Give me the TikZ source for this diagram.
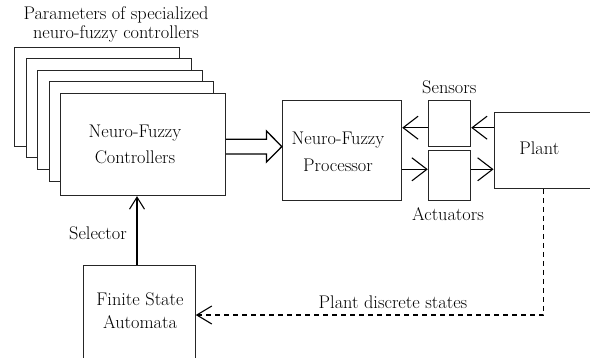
\documentclass[tikz,border=0pt]{standalone}
\usetikzlibrary{arrows.meta,calc}
\begin{document}
\begin{tikzpicture}[x=1pt,y=-1pt,
  box/.style={draw=black!85, line width=0.9pt, fill=white, inner sep=0pt},
  txt/.style={font=\fontsize{18.3}{26}\selectfont, align=center, inner sep=0pt},
  bigarr/.style={line width=1.4pt, -{Straight Barb[length=15pt,width=23pt,line width=1.1pt]}},
  selarr/.style={line width=1.4pt, -{Straight Barb[length=12pt,width=15pt,line width=1.1pt]}},
  dasharr/.style={line width=1.2pt, dash pattern=on 5pt off 4pt, -{Straight Barb[length=15pt,width=18pt,line width=1.1pt,sep=0pt]}},
  hollow/.style={draw=black, line width=1.3pt, line join=miter, fill=white}
]
\useasboundingbox (0,0) rectangle (590,357);
\clip (0,0) rectangle (590,357);

% stacked parameter boxes (back to front)
\node[box, minimum width=164.6pt, minimum height=98.3pt]  (p1) at (97.0,96.9) {};
\node[box, minimum width=165pt,   minimum height=99.4pt]  (p2) at (108.5,108.0) {};
\node[box, minimum width=164.3pt, minimum height=99pt]    (p3) at (119.9,119.5) {};
\node[box, minimum width=164.4pt, minimum height=100pt]   (p4) at (131.5,131.7) {};
\node[box, minimum width=165pt,   minimum height=102.4pt] (ctrl) at (143.2,144.5) {};
\node[txt] (ctrltxt) at (135,144) {Neuro-Fuzzy\\Controllers};

\node[txt, font=\fontsize{18.3}{19}\selectfont] (params) at (116,24) {Parameters of specialized\\neuro-fuzzy controllers};

% processor
\node[box, minimum width=119.5pt, minimum height=99.3pt] (proc) at (342,150.4) {};
\node[txt, font=\fontsize{18.3}{27}\selectfont] (proctxt) at (338,151.5) {Neuro-Fuzzy\\Processor};

% sensors / actuators
\node[box, minimum width=42.5pt, minimum height=46pt] (sens) at (449.5,123.7) {};
\node[box, minimum width=42.5pt, minimum height=50pt] (act)  at (449.5,175) {};
\node[txt] (senslbl) at (449.3,87) {Sensors};
\node[txt] (actlbl)  at (448,214) {Actuators};

% plant
\node[box, minimum width=140pt, minimum height=76pt] (plant) at (564,150.3) {};
\node[txt] (planttxt) at (539.3,148) {Plant};

% finite state automata
\node[box, minimum width=112pt, minimum height=120pt] (fsa) at (139.3,325.3) {};
\node[txt, font=\fontsize{18.3}{23}\selectfont] (fsatxt) at (140,310.5) {Finite State\\Automata};

% labels
\node[txt] (sellbl) at (98,233) {Selector};
\node[txt] (pdslbl) at (393,302) {Plant discrete states};

% helper coordinates
\coordinate (dy) at (0,146.6);
\coordinate (sy) at (0,127.7);
\coordinate (ay) at (0,169.3);
\coordinate (sx) at (137,0);
\coordinate (dc) at (543.3,315);

% hollow double arrow from controllers to processor
\draw[hollow] ($(ctrl.east |- dy)+(0,-7.3)$) -- ($(proc.west |- dy)+(-15.3,-7.3)$)
  -- ($(proc.west |- dy)+(-15.3,-15.6)$) -- (proc.west |- dy)
  -- ($(proc.west |- dy)+(-15.3,15.4)$) -- ($(proc.west |- dy)+(-15.3,7.4)$)
  -- ($(ctrl.east |- dy)+(0,7.4)$);

% sensor arrows
\draw[bigarr] (plant.west |- sy) -- (sens.east |- sy);
\draw[bigarr] (sens.west |- sy) -- (proc.east |- sy);
% actuator arrows
\draw[bigarr] (proc.east |- ay) -- (act.west |- ay);
\draw[bigarr] (act.east |- ay) -- (plant.west |- ay);

% selector
\draw[selarr] (fsa.north -| sx) -- (ctrl.south -| sx);

% plant discrete states
\draw[dasharr] (plant.south -| dc) -- (dc) -- (fsa.east |- dc);
\end{tikzpicture}
\end{document}
